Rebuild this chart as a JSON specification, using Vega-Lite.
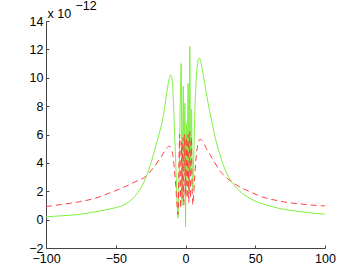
{
  "$schema": "https://vega.github.io/schema/vega-lite/v6.json",
  "autosize": "none",
  "width": 279,
  "height": 227,
  "padding": {"left": 46, "top": 21, "right": 34, "bottom": 32},
  "background": "white",
  "config": {
    "view": {"stroke": null},
    "font": "Liberation Sans",
    "axis": {
      "domainColor": "#444444",
      "tickColor": "#444444",
      "labelColor": "#000000",
      "labelFont": "Liberation Sans",
      "labelFontSize": 12.5,
      "labelOverlap": false,
      "grid": false,
      "tickSize": -3,
      "titleFont": "Liberation Sans",
      "titleFontSize": 12.5,
      "titleFontWeight": "normal",
      "titleColor": "#000000"
    }
  },
  "datasets": {
    "green": [
      {"x": -100, "y": 0.2}, {"x": -90, "y": 0.26}, {"x": -76, "y": 0.37}, {"x": -65, "y": 0.55},
      {"x": -52, "y": 0.8}, {"x": -45, "y": 1.0}, {"x": -40.5, "y": 1.26}, {"x": -35, "y": 1.8},
      {"x": -31, "y": 2.4}, {"x": -28.5, "y": 2.95}, {"x": -25, "y": 3.9}, {"x": -21.3, "y": 5.2},
      {"x": -18.5, "y": 6.2}, {"x": -16.5, "y": 7.0}, {"x": -14.5, "y": 8.2}, {"x": -12.9, "y": 9.3},
      {"x": -11.5, "y": 10.0}, {"x": -10.5, "y": 10.2}, {"x": -9.8, "y": 10.0}, {"x": -9, "y": 9.0},
      {"x": -8, "y": 6.6}, {"x": -7, "y": 4.0}, {"x": -6.2, "y": 1.8}, {"x": -5.4, "y": 0.1},
      {"x": -5.0, "y": 1.2}, {"x": -4.6, "y": 3.0}, {"x": -4.2, "y": 5.2}, {"x": -3.9, "y": 7.5},
      {"x": -3.5, "y": 9.5}, {"x": -3.1, "y": 11.0}, {"x": -2.8, "y": 6.0}, {"x": -2.5, "y": 1.0},
      {"x": -2.2, "y": 4.5}, {"x": -1.9, "y": 7.0}, {"x": -1.6, "y": 9.4}, {"x": -1.3, "y": 5.0},
      {"x": -1.0, "y": 3.5}, {"x": -0.7, "y": 6.5}, {"x": -0.45, "y": 8.2}, {"x": -0.2, "y": 4.0},
      {"x": 0.05, "y": -0.5}, {"x": 0.3, "y": 3.5}, {"x": 0.6, "y": 6.8}, {"x": 0.9, "y": 4.2},
      {"x": 1.2, "y": 2.8}, {"x": 1.5, "y": 6.0}, {"x": 1.9, "y": 9.6}, {"x": 2.2, "y": 4.8},
      {"x": 2.5, "y": 2.0}, {"x": 2.8, "y": 7.0}, {"x": 3.1, "y": 12.2}, {"x": 3.4, "y": 7.0},
      {"x": 3.7, "y": 3.5}, {"x": 4.0, "y": 5.5}, {"x": 4.3, "y": 7.8}, {"x": 4.7, "y": 4.2},
      {"x": 5.2, "y": 2.2}, {"x": 5.8, "y": 4.0}, {"x": 6.7, "y": 7.6}, {"x": 7.5, "y": 9.6},
      {"x": 8.5, "y": 10.9}, {"x": 9.8, "y": 11.4}, {"x": 11, "y": 11.1}, {"x": 12, "y": 10.6},
      {"x": 13.8, "y": 9.6}, {"x": 16, "y": 8.3}, {"x": 18.7, "y": 7.0}, {"x": 21.5, "y": 5.7},
      {"x": 24.6, "y": 4.6}, {"x": 28.5, "y": 3.5}, {"x": 33, "y": 2.67}, {"x": 39, "y": 2.0},
      {"x": 46, "y": 1.5}, {"x": 52, "y": 1.22}, {"x": 58, "y": 1.03}, {"x": 66, "y": 0.82},
      {"x": 74, "y": 0.67}, {"x": 82, "y": 0.56}, {"x": 91, "y": 0.46}, {"x": 100, "y": 0.39}
    ],
    "red": [
      {"x": -100, "y": 0.92}, {"x": -90, "y": 1.05}, {"x": -76, "y": 1.26}, {"x": -65, "y": 1.5},
      {"x": -52, "y": 1.97}, {"x": -45, "y": 2.25}, {"x": -36, "y": 2.67}, {"x": -28.5, "y": 3.05},
      {"x": -23, "y": 3.65}, {"x": -19, "y": 4.2}, {"x": -15, "y": 4.8}, {"x": -11.8, "y": 5.18},
      {"x": -10, "y": 5.0}, {"x": -9, "y": 4.5}, {"x": -8, "y": 3.6}, {"x": -7, "y": 2.4},
      {"x": -6.1, "y": 1.1}, {"x": -5.3, "y": 0.35}, {"x": -4.9, "y": 2.5}, {"x": -4.5, "y": 5.0},
      {"x": -4.2, "y": 6.0}, {"x": -3.9, "y": 3.5}, {"x": -3.6, "y": 0.8}, {"x": -3.3, "y": 3.0},
      {"x": -3.0, "y": 5.5}, {"x": -2.7, "y": 4.0}, {"x": -2.4, "y": 1.5}, {"x": -2.1, "y": 4.5},
      {"x": -1.8, "y": 5.8}, {"x": -1.5, "y": 3.0}, {"x": -1.2, "y": 1.0}, {"x": -0.9, "y": 4.0},
      {"x": -0.6, "y": 6.0}, {"x": -0.3, "y": 3.5}, {"x": 0.0, "y": 1.8}, {"x": 0.3, "y": 4.5},
      {"x": 0.6, "y": 5.8}, {"x": 0.9, "y": 3.0}, {"x": 1.2, "y": 1.5}, {"x": 1.5, "y": 4.5},
      {"x": 1.8, "y": 6.0}, {"x": 2.1, "y": 3.5}, {"x": 2.4, "y": 1.2}, {"x": 2.7, "y": 4.2},
      {"x": 3.0, "y": 6.2}, {"x": 3.3, "y": 3.8}, {"x": 3.6, "y": 1.5}, {"x": 3.9, "y": 4.0},
      {"x": 4.2, "y": 5.8}, {"x": 4.6, "y": 3.2}, {"x": 5.2, "y": 1.05}, {"x": 6.0, "y": 2.0},
      {"x": 7.0, "y": 3.6}, {"x": 8.2, "y": 4.9}, {"x": 10.3, "y": 5.66}, {"x": 12.6, "y": 5.49},
      {"x": 15, "y": 5.0}, {"x": 17.5, "y": 4.6}, {"x": 19.8, "y": 4.2}, {"x": 25, "y": 3.4},
      {"x": 33, "y": 2.67}, {"x": 40, "y": 2.25}, {"x": 46, "y": 1.97}, {"x": 55, "y": 1.6},
      {"x": 62, "y": 1.42}, {"x": 70, "y": 1.26}, {"x": 85, "y": 1.08}, {"x": 100, "y": 0.96}
    ]
  },
  "encoding": {
    "x": {
      "field": "x", "type": "quantitative",
      "scale": {"domain": [-100, 100], "nice": false, "zero": false},
      "axis": {"values": [-100, -50, 0, 50, 100], "labelOverlap": false, "labelPadding": 7, "title": "\u221212", "titleX": 29, "titleY": -239, "titleAlign": "left", "titleBaseline": "alphabetic", "labelFlush": false}
    },
    "y": {
      "field": "y", "type": "quantitative",
      "scale": {"domain": [-2, 14], "nice": false, "zero": false},
      "axis": {"values": [-2, 0, 2, 4, 6, 8, 10, 12, 14], "tickCount": 9, "labelOverlap": false, "labelPadding": 6, "title": "x 10", "titleAngle": 0, "titleX": 1, "titleY": -4, "titleAlign": "left", "titleBaseline": "alphabetic", "labelFlush": false}
    }
  },
  "layer": [
    {
      "data": {"name": "green"},
      "mark": {"type": "line", "color": "#80f040", "strokeWidth": 1, "interpolate": "monotone", "clip": true}
    },
    {
      "data": {"name": "red"},
      "mark": {"type": "line", "color": "#ff4040", "strokeWidth": 1, "strokeDash": [6, 4], "interpolate": "monotone", "clip": true}
    }
  ]
}
